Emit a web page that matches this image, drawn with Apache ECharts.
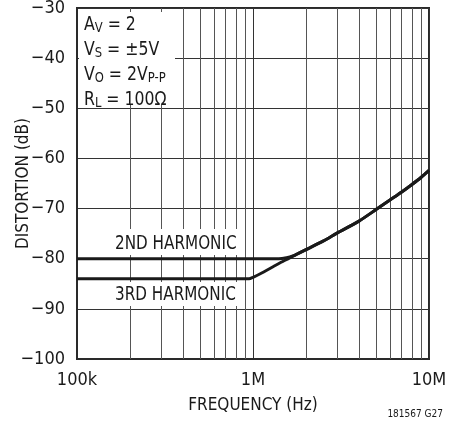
<!DOCTYPE html>
<html>
<head>
<meta charset="utf-8">
<script src="https://cdn.jsdelivr.net/npm/echarts@6/dist/echarts.min.js"></script>
<style>
html,body{margin:0;padding:0;background:#fff;}
#c{width:458px;height:427px;}
</style>
</head>
<body>
<div id="c"></div>
<script>
// ---- data ----
const xTickValues = [1e5, 1e6, 1e7];
const xTickLabels = ['100k', '1M', '10M'];
const yTicks = [-100, -90, -80, -70, -60, -50, -40, -30];
const minorFreqs = [2e5,3e5,4e5,5e5,6e5,7e5,8e5,9e5,2e6,3e6,4e6,5e6,6e6,7e6,8e6,9e6];

// shared high-frequency part (both harmonics merge near 1.8MHz)
const commonFreq = [1.8e6, 2e6, 2.5e6, 3e6, 4e6, 5e6, 6e6, 7e6, 8e6, 9e6, 1e7];
const commonDb   = [-79.0, -78.2, -76.5, -74.9, -72.5, -70.2, -68.3, -66.7, -65.2, -63.8, -62.4];

const h2Freq = [1e5, 1e6, 1.4e6, 1.55e6, 1.7e6];
const h2Db   = [-80, -80, -80, -79.8, -79.4];

const h3Freq = [1e5, 0.95e6, 1.0e6, 1.1e6, 1.3e6, 1.5e6];
const h3Db   = [-84, -84, -83.7, -83.0, -81.6, -80.4];

const annotLines = ['A_V = 2', 'V_S = ±5V', 'V_O = 2V_P-P', 'R_L = 100Ω'];
const label2 = '2ND HARMONIC';
const label3 = '3RD HARMONIC';
const footnote = '181567 G27';

// ---- build ----
const FONT = '"DejaVu Sans Condensed", "Liberation Sans", sans-serif';
const TXT = '#1a1a1a';
const pair = (xs, ys) => xs.map((x, i) => [x, ys[i]]);
const h2 = pair(h2Freq, h2Db).concat(pair(commonFreq, commonDb));
const h3 = pair(h3Freq, h3Db).concat(pair(commonFreq, commonDb));
const fmtY = v => v < 0 ? '\u2212' + Math.abs(v) : String(v);
const fmtX = v => {
  const i = xTickValues.findIndex(t => Math.abs(Math.log10(t) - Math.log10(v)) < 1e-6);
  return i >= 0 ? xTickLabels[i] : '';
};
function richLine(s) {
  const m = s.match(/^([A-Z])_([A-Z]+)(.*)$/);
  let out = '{n|' + m[1] + '}{s|' + m[2] + '}';
  const rest = m[3];
  const m2 = rest.match(/^(.*V)_(.*)$/);
  if (m2) out += '{n|' + m2[1] + '}{s|' + m2[2] + '}';
  else out += '{n|' + rest + '}';
  return out;
}

const chart = echarts.init(document.getElementById('c'), null, {renderer: 'canvas'});
const lineStyleCurve = {color: '#1a1a1a', width: 3};
chart.setOption({
  animation: false,
  backgroundColor: '#fff',
  grid: {left: 77, right: 29, top: 8, bottom: 68, containLabel: false, outerBoundsMode: 'none',
         show: true, borderColor: '#2a2a2a', borderWidth: 2, backgroundColor: 'transparent'},
  xAxis: {
    type: 'log', logBase: 10, min: 1e5, max: 1e7,
    name: 'FREQUENCY (Hz)', nameLocation: 'middle', nameGap: 38, nameMoveOverlap: false,
    nameTextStyle: {fontFamily: FONT, fontSize: 17, color: TXT},
    axisLine: {show: true, lineStyle: {color: '#2a2a2a', width: 2}},
    axisTick: {show: false},
    axisLabel: {formatter: fmtX, fontFamily: FONT, fontSize: 18, color: TXT, margin: 12, showMinLabel: true, showMaxLabel: true},
    splitLine: {show: true, lineStyle: {color: '#333', width: 1}},
    minorTick: {show: false}
  },
  yAxis: {
    type: 'value', min: -100, max: -30, interval: 10,
    name: 'DISTORTION (dB)', nameLocation: 'middle', nameGap: 45, nameRotate: 90, nameMoveOverlap: false,
    nameTextStyle: {fontFamily: FONT, fontSize: 17, color: TXT},
    axisLine: {show: true, lineStyle: {color: '#2a2a2a', width: 2}},
    axisTick: {show: false},
    axisLabel: {formatter: fmtY, fontFamily: FONT, fontSize: 18, color: TXT, margin: 12},
    splitLine: {show: true, lineStyle: {color: '#333', width: 1}}
  },
  series: [
    {
      type: 'line', data: [], silent: true, z: 1,
      markLine: {
        silent: true, symbol: 'none', z: 1, animation: false,
        label: {show: false},
        lineStyle: {color: '#555', width: 1, type: 'solid'},
        emphasis: {disabled: true},
        data: minorFreqs.map(f => ({xAxis: f}))
      }
    },
    {type: 'line', name: '2nd', data: h2, showSymbol: false, smooth: 0.25, lineStyle: lineStyleCurve, z: 5},
    {type: 'line', name: '3rd', data: h3, showSymbol: false, smooth: 0.25, lineStyle: lineStyleCurve, z: 5}
  ],
  graphic: [
    {type: 'rect', z: 10, shape: {x: 79, y: 12, width: 96, height: 92}, style: {fill: '#fff'}},
    {type: 'rect', z: 10, shape: {x: 79, y: 229, width: 161, height: 26}, style: {fill: '#fff'}},
    {type: 'rect', z: 10, shape: {x: 79, y: 282, width: 161, height: 24}, style: {fill: '#fff'}},
    {
      type: 'text', z: 11, x: 84, y: 13, scaleX: 0.92,
      style: {
        text: annotLines.map(richLine).join('\n'),
        fill: TXT,
        rich: {
          n: {fontFamily: FONT, fontSize: 19, lineHeight: 25, fill: TXT},
          s: {fontFamily: FONT, fontSize: 14, lineHeight: 14, verticalAlign: 'bottom', fill: TXT, padding: [0, 0, 3, 0]}
        }
      }
    },
    {type: 'text', z: 11, x: 115, y: 235, scaleX: 0.89, style: {text: label2, font: '19px ' + FONT, fill: TXT}},
    {type: 'text', z: 11, x: 115, y: 286, scaleX: 0.89, style: {text: label3, font: '19px ' + FONT, fill: TXT}},
    {type: 'text', z: 11, x: 443, y: 409, style: {text: footnote, font: '10px ' + FONT, fill: TXT, align: 'right'}}
  ]
});
</script>
</body>
</html>
